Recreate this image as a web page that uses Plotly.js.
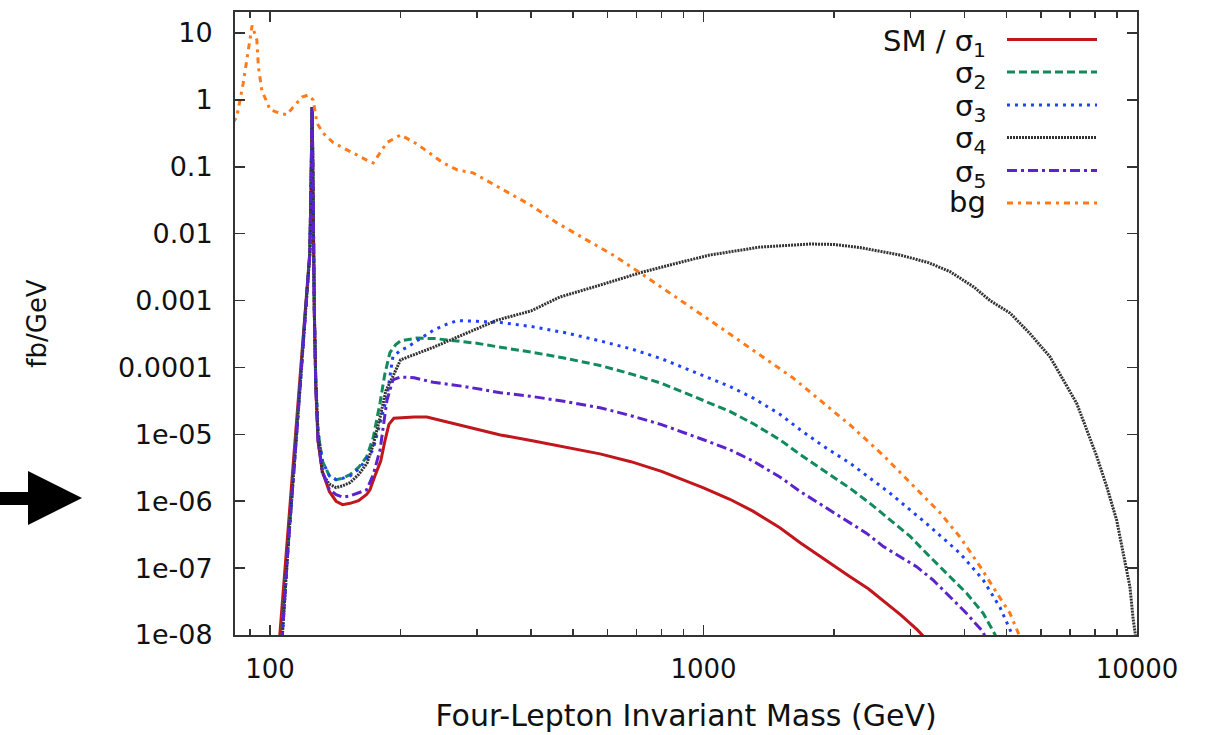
<!DOCTYPE html>
<html>
<head>
<meta charset="utf-8">
<script src="https://cdn.plot.ly/plotly-3.0.1.min.js"></script>
<style>html,body{margin:0;padding:0;background:#fff;}#chart{width:1213px;height:735px;}</style>
</head>
<body>
<div id="chart"></div>
<script>
// ---- data ----
const seriesNames = ["SM / σ<sub>1</sub>", "σ<sub>2</sub>", "σ<sub>3</sub>", "σ<sub>4</sub>", "σ<sub>5</sub>", "bg"];

const smX = [105, 110, 115, 120, 122, 123.5, 124.3, 124.8, 125, 125.3, 125.8, 126.5, 127.5, 129, 132, 137, 142, 147, 153, 160, 167, 170, 175, 180, 184, 188, 193, 200, 215, 230, 260, 300, 340, 400, 480, 577, 680, 800, 1000, 1150, 1300, 1500, 1671, 1900, 2178, 2400, 2594, 2850, 3110, 3250];
const smY = [7.9e-9, 3.4e-7, 1.38e-5, 4.8e-4, 1.9e-3, 5.2e-3, 0.05, 0.32, 0.72, 0.25, 0.016, 6.3e-4, 5.0e-5, 7.9e-6, 2.8e-6, 1.4e-6, 1.0e-6, 8.9e-7, 9.3e-7, 1.02e-6, 1.26e-6, 1.48e-6, 2.5e-6, 4.0e-6, 7.9e-6, 1.41e-5, 1.74e-5, 1.78e-5, 1.82e-5, 1.82e-5, 1.51e-5, 1.2e-5, 9.8e-6, 8.1e-6, 6.5e-6, 5.1e-6, 3.9e-6, 2.8e-6, 1.58e-6, 1.07e-6, 7.1e-7, 4.0e-7, 2.4e-7, 1.35e-7, 7.4e-8, 4.9e-8, 3.3e-8, 2.0e-8, 1.2e-8, 8.9e-9];

const s2X = [106, 110, 115, 120, 122, 123.5, 124.3, 124.8, 125, 125.3, 125.8, 126.5, 127.5, 129, 132, 137, 142, 147, 153, 160, 167, 173, 179.4, 184, 189, 195, 200, 218, 240, 260, 300, 340, 400, 480, 577, 680, 800, 1000, 1150, 1300, 1500, 1671, 1900, 2178, 2421, 2692, 2993, 3328, 3703, 4046, 4420, 4698, 4800];
const s2Y = [7.9e-9, 2.5e-7, 1.1e-5, 4.5e-4, 1.9e-3, 5.2e-3, 0.05, 0.32, 0.78, 0.25, 0.016, 7e-4, 6e-5, 1.1e-5, 4.0e-6, 2.4e-6, 2.1e-6, 2.2e-6, 2.5e-6, 3.2e-6, 4.6e-6, 9e-6, 3.0e-5, 8e-5, 1.66e-4, 2.2e-4, 2.5e-4, 2.75e-4, 2.7e-4, 2.57e-4, 2.3e-4, 2.0e-4, 1.7e-4, 1.37e-4, 1.07e-4, 8e-5, 5.8e-5, 3.2e-5, 2.2e-5, 1.45e-5, 8.3e-6, 5.0e-6, 2.8e-6, 1.56e-6, 9.3e-7, 5.2e-7, 3.0e-7, 1.48e-7, 7.4e-8, 4.2e-8, 2.1e-8, 1.07e-8, 8e-9];

const s3X = [106.5, 110, 115, 120, 122, 123.5, 124.3, 124.8, 125, 125.3, 125.8, 126.5, 127.5, 129, 132, 137, 142, 147, 153, 160, 167, 172.8, 180, 186, 192, 200, 207, 220, 238, 255, 270, 300, 340, 400, 480, 577, 680, 800, 1000, 1150, 1300, 1500, 1671, 1900, 2178, 2692, 3328, 3908, 4420, 4828, 5134, 5200];
const s3Y = [7.9e-9, 2.0e-7, 9e-6, 4.2e-4, 1.8e-3, 5e-3, 0.05, 0.32, 0.78, 0.25, 0.016, 7e-4, 6e-5, 1.1e-5, 4.0e-6, 2.4e-6, 2.1e-6, 2.2e-6, 2.4e-6, 3.0e-6, 4.3e-6, 5.9e-6, 1.6e-5, 3.6e-5, 1.45e-4, 1.8e-4, 2.0e-4, 2.6e-4, 3.6e-4, 4.4e-4, 5.0e-4, 4.9e-4, 4.7e-4, 4.1e-4, 3.3e-4, 2.5e-4, 1.9e-4, 1.35e-4, 7.6e-5, 5.2e-5, 3.5e-5, 2.0e-5, 1.17e-5, 6.5e-6, 3.7e-6, 1.32e-6, 4.2e-7, 1.66e-7, 6.6e-8, 2.6e-8, 1.07e-8, 8e-9];

const s4X = [106.5, 110, 115, 120, 122, 123.5, 124.3, 124.8, 125, 125.3, 125.8, 126.5, 127.5, 129, 132, 137, 142, 147, 153, 160, 167.4, 173, 179.4, 185, 189, 195, 200, 238, 284, 334, 400, 466, 577, 714, 850, 1035, 1350, 1761, 2000, 2295, 2838, 3300, 3706, 4200, 4581, 5095, 5666, 6295, 6760, 7260, 7656, 8074, 8513, 8977, 9296, 9630, 9800, 10000];
const s4Y = [7.9e-9, 2.0e-7, 9e-6, 4.2e-4, 1.8e-3, 5e-3, 0.05, 0.32, 0.78, 0.25, 0.016, 7e-4, 6e-5, 1.0e-5, 2.6e-6, 1.8e-6, 1.6e-6, 1.7e-6, 1.9e-6, 2.5e-6, 3.7e-6, 7e-6, 1.8e-5, 4.5e-5, 5.9e-5, 9e-5, 1.3e-4, 2.0e-4, 3.3e-4, 5.1e-4, 7.0e-4, 1.13e-3, 1.7e-3, 2.6e-3, 3.5e-3, 4.8e-3, 6.3e-3, 7.0e-3, 6.9e-3, 6.2e-3, 4.8e-3, 3.7e-3, 2.7e-3, 1.6e-3, 1.0e-3, 6.5e-4, 3.2e-4, 1.45e-4, 6.5e-5, 2.9e-5, 1.17e-5, 4.7e-6, 1.66e-6, 5.2e-7, 1.66e-7, 5.3e-8, 1.7e-8, 7e-9];

const s5X = [106.5, 110, 115, 120, 122, 123.5, 124.3, 124.8, 125, 125.3, 125.8, 126.5, 127.5, 129, 132, 137, 142, 147, 153, 160, 167, 173, 179.4, 186, 192, 200, 215, 238, 280, 340, 400, 480, 577, 680, 800, 1000, 1150, 1300, 1500, 1671, 1900, 2178, 2380, 2600, 2838, 3101, 3388, 3703, 4046, 4420, 4500];
const s5Y = [7.9e-9, 2.0e-7, 9e-6, 4.2e-4, 1.8e-3, 5e-3, 0.05, 0.32, 0.78, 0.25, 0.016, 7e-4, 5e-5, 8e-6, 2.8e-6, 1.5e-6, 1.25e-6, 1.15e-6, 1.2e-6, 1.35e-6, 1.48e-6, 2.5e-6, 5.9e-6, 3.2e-5, 6.5e-5, 7.2e-5, 7.0e-5, 6.0e-5, 5.2e-5, 4.2e-5, 3.7e-5, 3.1e-5, 2.5e-5, 1.9e-5, 1.4e-5, 8.3e-6, 5.9e-6, 4.0e-6, 2.3e-6, 1.4e-6, 8.3e-7, 4.8e-7, 3.3e-7, 2.1e-7, 1.48e-7, 1.05e-7, 6.6e-8, 3.7e-8, 2.1e-8, 1.1e-8, 8e-9];

const bgX = [82, 83.8, 86.7, 89.1, 90.9, 93.2, 94.0, 95.7, 98.3, 100, 105.5, 109.4, 113, 118.5, 122.3, 125.7, 128.3, 132.5, 139.8, 155, 167, 173, 186, 200, 218, 251, 270, 294, 340, 398, 459, 527, 618, 714, 1091, 1607, 2178, 2594, 3110, 3513, 3908, 4348, 4745, 5095, 5322, 5400];
const bgY = [0.45, 0.56, 1.77, 5.6, 13, 7.9, 3.1, 1.4, 0.89, 0.71, 0.63, 0.6, 0.78, 1.1, 1.18, 1.0, 0.45, 0.32, 0.23, 0.16, 0.126, 0.114, 0.23, 0.30, 0.22, 0.114, 0.09, 0.081, 0.048, 0.027, 0.0145, 0.0086, 0.0048, 0.0026, 4.0e-4, 7.0e-5, 1.38e-5, 4.9e-6, 1.47e-6, 6.7e-7, 2.9e-7, 1.05e-7, 4.3e-8, 2.1e-8, 1.07e-8, 8e-9];

const xTickVals = [100, 1000, 10000];
const xTickText = ["100", "1000", "10000"];
const xMinorVals = [90, 200, 300, 400, 500, 600, 700, 800, 900, 2000, 3000, 4000, 5000, 6000, 7000, 8000, 9000];
const yTickVals = [1e-8, 1e-7, 1e-6, 1e-5, 1e-4, 1e-3, 0.01, 0.1, 1, 10];
const yTickText = ["1e-08", "1e-07", "1e-06", "1e-05", "0.0001", "0.001", "0.01", "0.1", "1", "10"];

// ---- styles ----
const colors = ["#c0161c", "#138a5c", "#1e40ff", "#333333", "#5c22cc", "#ff7a1a"];
const dashes = ["solid", "8px,4px", "3px,5px", "2px,1px", "10px,4px,3px,4px", "6px,5px,3px,5px"];
const widths = [3, 3, 3, 3, 3, 3];
const xs = [smX, s2X, s3X, s4X, s5X, bgX];
const ys = [smY, s2Y, s3Y, s4Y, s5Y, bgY];
const order = [0, 1, 2, 3, 4, 5];

const traces = order.map(i => ({
  x: xs[i], y: ys[i], type: "scatter", mode: "lines", name: seriesNames[i],
  line: {color: colors[i], width: widths[i], dash: dashes[i]},
  showlegend: false, hoverinfo: "skip"
}));

const FONT = "DejaVu Sans, Liberation Sans, Arial, sans-serif";
const L = 235, R = 1137, T = 12, B = 635;
const px = v => (v - L) / (R - L);
const py = v => (B - v) / (B - T);

// manual legend (text left of sample, as in the reference)
const rows = [39.5, 72, 105, 137.5, 170.5, 203];
const annotations = [];
const shapes = [];
for (let i = 0; i < 6; i++) {
  annotations.push({
    xref: "paper", yref: "paper", x: px(988), y: py(rows[i] + (i === 5 ? -1 : 3)),
    xanchor: "right", yanchor: "middle", showarrow: false,
    text: seriesNames[i], font: {family: FONT, size: 29, color: "#111"}
  });
  shapes.push({
    type: "line", xref: "paper", yref: "paper",
    x0: px(1007), x1: px(1097), y0: py(rows[i]), y1: py(rows[i]),
    line: {color: colors[i], width: widths[i], dash: dashes[i]}
  });
}
// black arrow at the left pointing at 1e-06
shapes.push({
  type: "path", xref: "paper", yref: "paper",
  path: `M ${px(0)},${py(492)} L ${px(28)},${py(492)} L ${px(28)},${py(471)} L ${px(82)},${py(498)} L ${px(28)},${py(525)} L ${px(28)},${py(505)} L ${px(0)},${py(505)} Z`,
  fillcolor: "#000", line: {width: 0}
});

const layout = {
  width: 1213, height: 735,
  margin: {l: L, r: 1213 - R, t: T, b: 735 - B},
  paper_bgcolor: "#fff", plot_bgcolor: "#fff",
  font: {family: FONT, color: "#111"},
  showlegend: false,
  xaxis: {
    type: "log", range: [Math.log10(83), 4],
    tickmode: "array", tickvals: xTickVals, ticktext: xTickText,
    ticks: "inside", ticklen: 10, tickwidth: 1.5, tickcolor: "#333",
    minor: {tickmode: "array", tickvals: xMinorVals, ticks: "inside", ticklen: 6, tickwidth: 1.5, tickcolor: "#333", showgrid: false},
    showline: true, linecolor: "#333", linewidth: 2, mirror: "ticks",
    showgrid: false, zeroline: false,
    ticklabelstandoff: 10,
    tickfont: {family: FONT, size: 26, color: "#111"},
    title: {text: "Four-Lepton Invariant Mass (GeV)", font: {family: FONT, size: 30, color: "#111"}, standoff: 22}
  },
  yaxis: {
    type: "log", range: [-8, 1.314],
    tickmode: "array", tickvals: yTickVals, ticktext: yTickText,
    ticks: "inside", ticklen: 10, tickwidth: 1.5, tickcolor: "#333",
    showline: true, linecolor: "#333", linewidth: 2, mirror: "ticks",
    showgrid: false, zeroline: false,
    ticklabelstandoff: 15,
    tickfont: {family: FONT, size: 27, color: "#111"},
    title: {text: "fb/GeV", font: {family: FONT, size: 26, color: "#111"}, standoff: 64}
  },
  annotations: annotations,
  shapes: shapes
};

Plotly.newPlot("chart", traces, layout, {staticPlot: true, displayModeBar: false});
</script>
</body>
</html>
